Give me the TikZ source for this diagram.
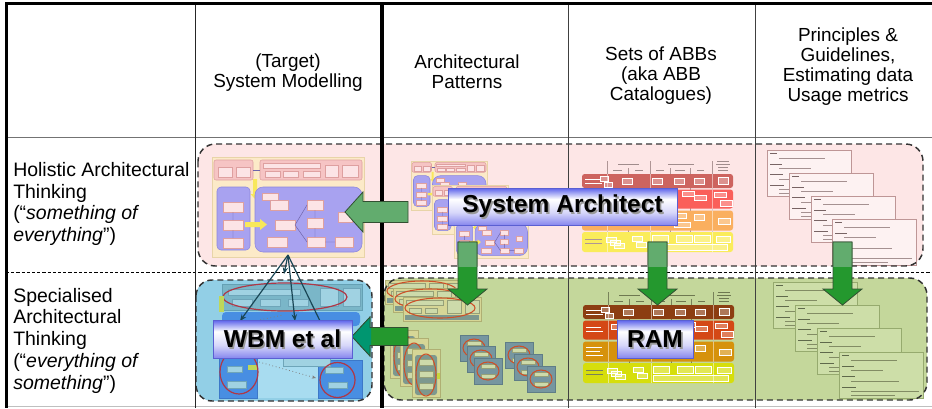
\documentclass[tikz,border=0pt]{standalone}
\usepackage{fontspec}
\setmainfont{Liberation Sans}
\usetikzlibrary{arrows.meta}
% box and arrow colours
\definecolor{pinkfill}{RGB}{253,230,230}
\definecolor{greenfill}{RGB}{196,215,155}
\definecolor{bluefill}{RGB}{146,207,230}
\definecolor{arrstrong}{RGB}{36,152,46}
\definecolor{arrpale}{RGB}{98,172,110}
\definecolor{arrteal}{RGB}{0,150,112}
\definecolor{arredge}{RGB}{50,80,50}
\definecolor{bantop}{RGB}{92,98,235}
\definecolor{banmid}{RGB}{215,215,250}
\definecolor{banbot}{RGB}{135,135,238}
\definecolor{banedge}{RGB}{90,95,210}
\definecolor{fanline}{RGB}{25,70,85}
% system thumbnail colours
\definecolor{thbeige}{RGB}{252,234,200}
\definecolor{thbeigeD}{RGB}{232,212,168}
\definecolor{thpink}{RGB}{246,196,196}
\definecolor{thpinkD}{RGB}{222,160,160}
\definecolor{thpinkL}{RGB}{252,228,230}
\definecolor{thpurple}{RGB}{168,162,240}
\definecolor{thpurpleD}{RGB}{140,134,222}
\definecolor{thyellow}{RGB}{248,232,90}
\definecolor{thline}{RGB}{110,100,170}
% ABB chart colours
\definecolor{abbEp}{RGB}{205,100,95}
\definecolor{abbBp}{RGB}{250,95,90}
\definecolor{abbIp}{RGB}{250,175,95}
\definecolor{abbTp}{RGB}{250,236,90}
\definecolor{abbDivp}{RGB}{175,150,150}
\definecolor{abbHdrp}{RGB}{160,140,140}
\definecolor{abbEg}{RGB}{140,62,18}
\definecolor{abbBg}{RGB}{212,72,22}
\definecolor{abbIg}{RGB}{214,146,12}
\definecolor{abbTg}{RGB}{214,222,12}
\definecolor{abbDivg}{RGB}{120,130,90}
\definecolor{abbHdrg}{RGB}{110,120,80}
% cards
\definecolor{cardFp}{RGB}{253,242,242}
\definecolor{cardBp}{RGB}{190,150,150}
\definecolor{cardLp}{RGB}{120,100,100}
\definecolor{cardTp}{RGB}{165,145,145}
\definecolor{cardFg}{RGB}{205,222,168}
\definecolor{cardBg}{RGB}{150,170,110}
\definecolor{cardLg}{RGB}{95,105,75}
\definecolor{cardTg}{RGB}{130,140,100}
% green row thumbnails
\definecolor{wtbg}{RGB}{214,214,150}
\definecolor{wtbgD}{RGB}{175,175,115}
\definecolor{wtslate}{RGB}{125,152,142}
\definecolor{wtbox}{RGB}{205,218,170}
\definecolor{wtboxD}{RGB}{150,160,120}
\definecolor{sqslate}{RGB}{118,150,160}
\definecolor{sqslateD}{RGB}{95,125,135}
\definecolor{ellred}{RGB}{205,80,40}
\definecolor{thyellowG}{RGB}{200,215,60}
% blue box thumbnail
\definecolor{wbTeal}{RGB}{122,182,200}
\definecolor{wbTealD}{RGB}{100,160,180}
\definecolor{wbBox}{RGB}{160,210,226}
\definecolor{wbBoxD}{RGB}{110,165,185}
\definecolor{wbBlue}{RGB}{72,142,226}
\definecolor{wbBlueD}{RGB}{60,120,200}
\definecolor{wbLight}{RGB}{168,220,240}
\definecolor{wbYG}{RGB}{190,215,90}
\definecolor{wbRed}{RGB}{175,55,70}

\pgfdeclareverticalshading{bannershade}{100bp}{color(0bp)=(banbot); color(25bp)=(banbot); color(42bp)=(banmid); color(60bp)=(white); color(75bp)=(bantop); color(100bp)=(bantop)}

% thumbnail of the system model (local 152 x 100)
\newcommand{\systhumb}{%
  \filldraw[fill=thbeige,draw=thbeigeD,line width=0.4pt] (0,0) rectangle (152,100);
  \filldraw[fill=thpink,draw=thpinkD,line width=0.4pt,rounded corners=1.5pt] (2,3) rectangle (41,23);
  \filldraw[fill=thpink,draw=thpinkD,line width=0.4pt,rounded corners=1.5pt] (48,3) rectangle (150,23);
  \foreach \xa/\ya/\xb/\yb in {6/10/20/20, 24/10/38/20, 51/6/108/11, 53/14/68/20, 71/14/86/20, 91/14/108/20, 113/8/126/20, 130/8/146/20}
    \filldraw[fill=thpinkL,draw=thpinkD,line width=0.3pt] (\xa,\ya) rectangle (\xb,\yb);
  \draw[thline,line width=0.4pt] (41,13) -- (48,13);
  \fill[thyellow] (41,22) -- (45,22) -- (45,37) -- (47.5,37) -- (43,42) -- (38.5,37) -- (41,37) -- cycle;
  \filldraw[fill=thpurple,draw=thpurpleD,line width=0.4pt,rounded corners=3pt] (5,30) rectangle (38,93);
  \filldraw[fill=thpurple,draw=thpurpleD,line width=0.4pt,rounded corners=6pt] (43,30) rectangle (150,95);
  \foreach \xa/\ya/\xb/\yb in {11/45/31/55, 11/63/31/73, 11/81/31/91, 50/36/66/43, 58/43/76/53, 63/63/83/73, 55/80/75/90, 95/43/111/53, 95/61/111/71, 95/80/113/90, 123/80/141/90, 126/55/140/65}
    \filldraw[fill=thpinkL,draw=thpinkD,line width=0.3pt] (\xa,\ya) rectangle (\xb,\yb);
  \fill[thyellow] (33,65) -- (48,65) -- (48,62) -- (55,67.5) -- (48,73) -- (48,70) -- (33,70) -- cycle;
  \draw[thline,line width=0.35pt] (83,68) -- (95,48) (83,68) -- (95,85) (103,53) -- (103,61) (103,71) -- (103,80) (113,85) -- (123,85) (21,55) -- (21,63) (21,73) -- (21,81);
}

% layered ABB chart (local 151 x 92)
\newcommand{\abbchart}[6]{%
  \foreach \xx in {25,68,130} \draw[#5,line width=0.3pt] (\xx,1) -- (\xx,92);
  \foreach \xx in {46,88,108} \draw[#5,line width=0.3pt] (\xx,8) -- (\xx,92);
  \draw[#6,line width=0.5pt] (36,4) -- (57,4) (86,4) -- (112,4) (135,1.5) -- (147,1.5) (134,4.5) -- (148,4.5) (136,7.5) -- (146,7.5)
     (31,10.5) -- (40,10.5) (53,10.5) -- (61,10.5) (74,10.5) -- (82,10.5) (93,10.5) -- (103,10.5) (115,10.5) -- (122,10.5) (136,10.5) -- (146,10.5);
  \fill[#1,rounded corners=2pt] (0,14) rectangle (151,28);
  \fill[#2,rounded corners=2pt] (0,29.5) rectangle (151,48.5);
  \fill[#3,rounded corners=2pt] (0,50.5) rectangle (151,70.5);
  \fill[#4,rounded corners=2pt] (0,72) rectangle (151,92);
  \foreach \xx in {25,68,130} \draw[white,opacity=0.5,line width=0.3pt] (\xx,14) -- (\xx,92);
  \draw[white,line width=0.7pt] (3,19) -- (19,19) (3,23) -- (20,23) (3,36) -- (18,36) (3,40) -- (20,40) (3,56) -- (19,56) (3,60) -- (17,60) (3,64) -- (20,64);
  \draw[#5,line width=0.7pt] (3,79) -- (20,79) (3,83) -- (20,83);
  \foreach \xa/\ya/\xb/\yb in {18/16/26/21, 22/22/30/27, 40/18/50/24, 70/18/80/24, 92/18/102/24, 112/18/122/24, 136/17/146/24,
     28/33/40/38, 36/39/46/44, 42/35/52/40, 100/31/112/36, 112/35/124/40, 132/32/144/37, 138/40/150/46,
     80/52/92/57, 92/53/104/58, 112/54/122/60, 136/58/148/64, 92/62/108/67,
     24/77/34/82, 28/80/38/85, 32/83/42/88, 50/76/60/81, 54/82/64/87, 70/75/86/82, 94/75/110/82, 112/75/128/82, 134/76/148/82, 70/84/145/90}
    \draw[white,line width=0.3pt,fill=white,fill opacity=0.3] (\xa,\ya) rectangle (\xb,\yb);
}

% principle card (local 84 x 46)
\newcommand{\pcard}[4]{%
  \filldraw[fill=#1,draw=#2,line width=0.4pt] (0,0) rectangle (84,46);
  \draw[#3,line width=0.6pt] (3,3.5) -- (10,3.5) (3,14) -- (15,14) (3,24.5) -- (16,24.5) (3,35) -- (17,35);
  \draw[#4,line width=0.4pt] (12,8) -- (58,8) (12,18.5) -- (44,18.5) (12,29) -- (60,29) (12,39.5) -- (80,39.5) (12,43) -- (56,43);
}

% green-row pattern thumbnails
\newcommand{\widethumb}{%
  \filldraw[fill=wtbg,draw=wtbgD,line width=0.3pt] (0,0) rectangle (78,24);
  \fill[wtslate] (2,18) rectangle (76,23);
  \filldraw[fill=wtbox,draw=wtboxD,line width=0.3pt] (3,3) rectangle (40,8) (44,3) rectangle (58,16) (62,3) rectangle (76,16) (6,11) rectangle (18,16) (22,11) rectangle (34,16);
  \draw[ellred,line width=0.8pt] (37,11) ellipse [x radius=35, y radius=10];
}
\newcommand{\tallthumb}{%
  \filldraw[fill=wtbg,draw=wtbgD,line width=0.3pt] (0,0) rectangle (28,48);
  \fill[wtslate,rounded corners=2pt] (3,6) rectangle (25,46);
  \foreach \yy in {10,22,34} \filldraw[fill=wtbox,draw=wtboxD,line width=0.3pt] (7,\yy) rectangle (21,\yy+6);
  \draw[ellred,line width=0.8pt] (14,26) ellipse [x radius=10, y radius=21];
  \fill[thyellowG] (25,24) rectangle (28,30);
}
\newcommand{\sqthumb}{%
  \filldraw[fill=sqslate,draw=sqslateD,line width=0.3pt] (0,0) rectangle (28,26);
  \filldraw[fill=wtbox,draw=wtboxD,line width=0.3pt] (7,6) rectangle (21,10) (7,16) rectangle (21,20);
  \draw[ellred,line width=0.8pt] (14,13) ellipse [x radius=11, y radius=9];
}

\begin{document}
\begin{tikzpicture}[x=0.75pt,y=-0.75pt,
  dashbox/.style={draw=black!80,line width=1.1pt,dash pattern=on 4.5pt off 3pt},
  hdr/.style={font=\fontsize{14.2}{15}\selectfont,align=center,inner sep=0pt},
  rowlbl/.style={font=\fontsize{14.6}{16.3}\selectfont,align=left,anchor=west,inner sep=0pt},
  banner/.style={draw=banedge,line width=0.5pt,shading=bannershade,inner sep=0pt},
  bantext/.style={font=\fontsize{18.4}{20}\selectfont\bfseries,inner sep=0pt},
  fan/.style={draw=fanline,line width=0.9pt},
  fanarrow/.style={fan,-{Stealth[length=5pt,width=4pt]}},
  blockedge/.style={draw=arredge,line width=0.6pt},
]
\useasboundingbox (0,0) rectangle (932,408);
\fill[white] (0,0) rectangle (932,408);

% ---- box fills
\fill[pinkfill,rounded corners=13pt] (198,144) rectangle (923,266);
\fill[greenfill,rounded corners=13pt] (384,278) rectangle (927,400);
\fill[bluefill,rounded corners=12pt] (196,280) rectangle (372,401);

% ---- holistic row thumbnails
\begin{scope}[shift={(212,157)}] \systhumb \end{scope}
\begin{scope}[shift={(411,161)},xscale=0.5,yscale=0.49] \systhumb \end{scope}
\begin{scope}[shift={(432,185)},xscale=0.5,yscale=0.49] \systhumb \end{scope}
\begin{scope}[shift={(454,209)},xscale=0.49,yscale=0.49] \systhumb \end{scope}
\begin{scope}[shift={(582,160)}] \abbchart{abbEp}{abbBp}{abbIp}{abbTp}{abbDivp}{abbHdrp} \end{scope}
\foreach \cx/\cy in {767/150, 789/173, 811/196, 832/219} {
  \begin{scope}[shift={(\cx,\cy)}] \pcard{cardFp}{cardBp}{cardLp}{cardTp} \end{scope}
}

% ---- specialised row thumbnails
\foreach \cx/\cy in {385/280, 393/288, 403/297} {
  \begin{scope}[shift={(\cx,\cy)}] \widethumb \end{scope}
}
\foreach \cx/\cy in {390/330, 400/338, 412/349} {
  \begin{scope}[shift={(\cx,\cy)}] \tallthumb \end{scope}
}
\foreach \cx/\cy in {460/335, 467/346, 474/358, 505/342, 514/354, 527/366} {
  \begin{scope}[shift={(\cx,\cy)}] \sqthumb \end{scope}
}
\begin{scope}[shift={(583,291)}] \abbchart{abbEg}{abbBg}{abbIg}{abbTg}{abbDivg}{abbHdrg} \end{scope}
\foreach \cx/\cy in {773/282, 795/305, 817/328, 839/352} {
  \begin{scope}[shift={(\cx,\cy)}] \pcard{cardFg}{cardBg}{cardLg}{cardTg} \end{scope}
}

% ---- WBM thumbnail inside blue box
\filldraw[fill=wbTeal,draw=wbTealD,line width=0.4pt] (222,284) rectangle (362,310);
\foreach \xa/\ya/\xb/\yb in {228/289/300/295, 232/299/252/306, 260/299/280/306, 288/299/308/306, 320/288/338/306, 343/288/360/306}
  \filldraw[fill=wbBox,draw=wbBoxD,line width=0.3pt] (\xa,\ya) rectangle (\xb,\yb);
\draw[wbRed,line width=0.9pt] (285,297) ellipse [x radius=62, y radius=14];
\fill[wbYG] (219,296) rectangle (224,312);
\fill[wbBlue,rounded corners=3pt] (222,312) rectangle (360,326);
\draw[gray,line width=0.6pt,dotted] (250,322) -- (283,315);
\fill[wbLight] (257,356) rectangle (318,398);
\filldraw[fill=wbBlue,draw=wbBlueD,line width=0.3pt] (219,356) rectangle (257,398);
\filldraw[fill=wbBlue,draw=wbBlueD,line width=0.3pt] (318,360) rectangle (362,398);
\filldraw[fill=wbBox,draw=wbBoxD,line width=0.3pt] (283,357) rectangle (330,366);
\foreach \xa/\ya/\xb/\yb in {227/366/242/372, 227/381/246/388, 325/367/343/373, 328/382/347/388}
  \filldraw[fill=wbBox,draw=wbBoxD,line width=0.3pt] (\xa,\ya) rectangle (\xb,\yb);
\fill[wbYG] (248,365) rectangle (257,370);
\draw[wbRed,line width=0.9pt] (239,372) ellipse [x radius=19, y radius=22];
\draw[wbRed,line width=0.9pt] (337.5,380) ellipse [x radius=17.5, y radius=17.5];
\coordinate (dotA) at (259,362);
\coordinate (dotB) at (316,378);
\draw[gray,line width=0.6pt,dotted,-{Stealth[length=3pt,width=2.5pt]}] (dotA) -- (dotB);

% ---- dashed borders of the boxes
\draw[dashbox,rounded corners=13pt] (198,144) rectangle (923,266);
\draw[dashbox,rounded corners=13pt] (384,278) rectangle (927,400);
\draw[dashbox,rounded corners=12pt] (196,280) rectangle (372,401);

% ---- table lines
\draw[black!55,line width=0.75pt] (6,137) -- (932,137);
\draw[black,line width=0.8pt,dash pattern=on 2.4pt off 1.5pt] (6,272.5) -- (932,272.5);
\draw[black!25,line width=0.75pt] (6,406) -- (932,406);
\draw[black!85,line width=0.75pt] (195,4) -- (195,408);
\draw[black!75,line width=0.75pt] (568,4) -- (568,408);
\draw[black!75,line width=0.75pt] (755,4) -- (755,408);
\draw[black,line width=3pt] (381.5,4) -- (381.5,408);
\draw[black,line width=2.4pt] (5,3.5) -- (932,3.5);
\draw[black,line width=2.4pt] (6.5,2) -- (6.5,408);

% ---- block arrows
\filldraw[fill=arrpale,blockedge] (408,201.5) -- (363,201.5) -- (363,192) -- (345,212) -- (363,232) -- (363,222.5) -- (408,222.5) -- cycle;
\foreach \ax in {467.5,657.5,842.5} {
  \filldraw[fill=arrstrong,blockedge] (\ax-9.5,242) -- (\ax+9.5,242) -- (\ax+9.5,289) -- (\ax+19.5,289) -- (\ax,305) -- (\ax-19.5,289) -- (\ax-9.5,289) -- cycle;
  \begin{scope}
    \clip (\ax-15,230) rectangle (\ax+15,266);
    \filldraw[fill=arrpale,blockedge] (\ax-9.5,242) -- (\ax+9.5,242) -- (\ax+9.5,289) -- (\ax+19.5,289) -- (\ax,305) -- (\ax-19.5,289) -- (\ax-9.5,289) -- cycle;
  \end{scope}
}
\filldraw[fill=arrstrong,blockedge] (408,327.5) -- (370,327.5) -- (370,317) -- (352,336.5) -- (370,356) -- (370,345.5) -- (408,345.5) -- cycle;
\begin{scope}
  \clip (340,300) rectangle (371,370);
  \filldraw[fill=arrteal,blockedge] (408,327.5) -- (370,327.5) -- (370,317) -- (352,336.5) -- (370,356) -- (370,345.5) -- (408,345.5) -- cycle;
\end{scope}

% ---- fan of connectors from the system model to WBM
\coordinate (apex) at (288,255);
\coordinate (fanA) at (240,321);
\coordinate (fanB) at (284,274);
\coordinate (fanC) at (295,321);
\coordinate (fanD) at (321,323);
\draw[fanarrow] (apex) -- (fanA);
\draw[fanarrow] (apex) -- (fanB);
\draw[fanarrow] (apex) -- (fanC);
\draw[fan] (apex) -- (fanD);

% ---- banners
\node[banner,minimum width=171.75pt,minimum height=27.75pt] (sa) at (562.5,206.5) {};
\node[bantext,text=black!40] (sash) at ([xshift=1.2pt,yshift=-1.2pt]sa.center) {System Architect};
\node[bantext] (satx) at (sa.center) {System Architect};
\node[banner,minimum width=104.25pt,minimum height=28.5pt] (wbm) at (282.5,339) {};
\node[bantext,text=black!40] (wbmsh) at ([xshift=1.2pt,yshift=-1.2pt]wbm.center) {WBM et al};
\node[bantext] (wbmtx) at (wbm.center) {WBM et al};
\node[banner,minimum width=57pt,minimum height=28.5pt] (ram) at (655,339) {};
\node[bantext,text=black!40] (ramsh) at ([xshift=1.2pt,yshift=-1.2pt]ram.center) {RAM};
\node[bantext] (ramtx) at (ram.center) {RAM};

% ---- texts
\node[hdr] (h1) at (288,73) {(Target)\\System Modelling};
\node[hdr] (h2) at (467,72) {Architectural\\Patterns};
\node[hdr] (h3) at (661,75.5) {Sets of ABBs\\(aka ABB\\Catalogues)};
\node[hdr] (h4) at (848,67) {Principles \&\\Guidelines,\\Estimating data\\Usage metrics};
\node[rowlbl] (r1) at (13,204) {Holistic Architectural\\Thinking\\(“\textit{something of}\\\textit{everything}”)};
\node[rowlbl] (r2) at (13,340.5) {Specialised\\Architectural\\Thinking\\(“\textit{everything of}\\\textit{something}”)};
\end{tikzpicture}
\end{document}
